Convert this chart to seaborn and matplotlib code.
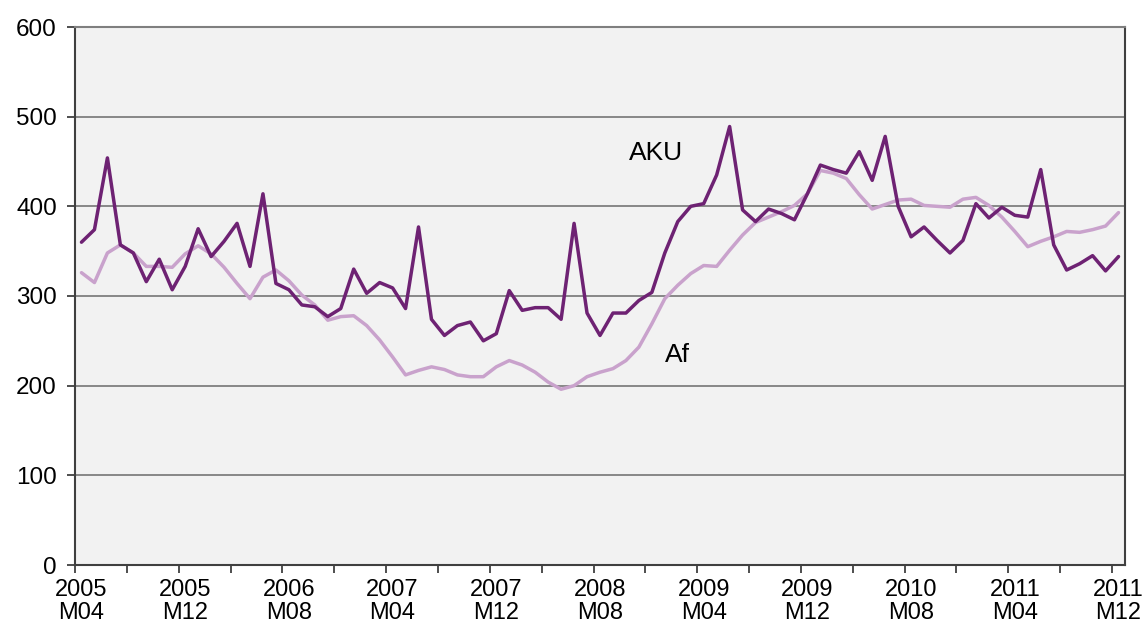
import matplotlib
matplotlib.use("Agg")
import matplotlib.pyplot as plt
import seaborn as sns
import pandas as pd
import numpy as np

# ---- data ----
aku = [360, 374, 454, 357, 348, 316, 341, 307, 333, 375, 344, 361, 381, 333, 414,
       314, 307, 290, 288, 277, 286, 330, 303, 315, 309, 286, 377, 274, 256, 267,
       271, 250, 258, 306, 284, 287, 287, 274, 381, 281, 256, 281, 281, 295, 304,
       348, 383, 400, 403, 435, 489, 396, 383, 397, 392, 385, 414, 446, 441, 437,
       461, 429, 478, 400, 366, 377, 362, 348, 362, 403, 387, 399, 390, 388, 441,
       357, 329, 336, 345, 328, 344]
af = [326, 315, 348, 357, 348, 333, 333, 332, 347, 356, 347, 332, 314, 297, 321,
      329, 317, 301, 290, 273, 277, 278, 267, 251, 232, 212, 217, 221, 218, 212,
      210, 210, 221, 228, 223, 215, 204, 196, 200, 210, 215, 219, 228, 243, 269,
      297, 312, 325, 334, 333, 351, 368, 382, 388, 394, 401, 414, 440, 437, 431,
      413, 397, 402, 407, 408, 401, 400, 399, 408, 410, 401, 388, 372, 355, 361,
      366, 372, 371, 374, 378, 393]
tick_labels = ["2005\nM04", "2005\nM12", "2006\nM08", "2007\nM04", "2007\nM12",
               "2008\nM08", "2009\nM04", "2009\nM12", "2010\nM08", "2011\nM04",
               "2011\nM12"]
series_names = ["AKU", "Af"]
colors = {"AKU": "#6E2273", "Af": "#C9A2CC"}

n = len(aku)
df = pd.DataFrame({
    "t": list(range(n)) * 2,
    "value": aku + af,
    "series": ["AKU"] * n + ["Af"] * n,
})

sns.set_theme(style="white")
plt.rcParams["font.family"] = ["Liberation Sans", "DejaVu Sans"]

fig = plt.figure(figsize=(11.43, 6.29), dpi=100)
ax = fig.add_axes([75 / 1143, 64 / 629, (1125 - 75) / 1143, (565 - 27) / 629])
ax.set_facecolor("#F2F2F2")

sns.lineplot(data=df, x="t", y="value", hue="series", hue_order=["Af", "AKU"],
             palette=colors, linewidth=2.5, legend=False, ax=ax, zorder=3)

ax.set_xlim(-0.5, n - 0.5)
ax.set_ylim(0, 600)
ax.set_yticks(range(0, 601, 100))
ax.yaxis.grid(True, color="#7F7F7F", linewidth=1.3, zorder=0)
ax.xaxis.grid(False)
ax.set_axisbelow(True)

ax.set_xticks(np.arange(0, n, 8))
ax.set_xticklabels(tick_labels)
ax.set_xticks(np.arange(-0.5, n, 4), minor=True)
ax.tick_params(axis="x", which="major", length=0, pad=10, labelsize=17, colors="black")
ax.tick_params(axis="x", which="minor", length=6, width=1.3, color="#404040", direction="out", bottom=True)
ax.tick_params(axis="y", which="major", length=6, width=1.3, color="#404040", direction="out",
               left=True, labelsize=17.5, pad=7, labelcolor="black")
for lab in ax.get_xticklabels():
    lab.set_linespacing(1.05)
ax.set_xlabel("")
ax.set_ylabel("")
for s in ax.spines.values():
    s.set_color("#404040")
    s.set_linewidth(1.5)
ax.spines["top"].set_color("#7F7F7F")

ax.text(44.3, 460, "AKU", fontsize=19, ha="center", va="center", color="black")
ax.text(46.0, 234, "Af", fontsize=19, ha="center", va="center", color="black")

fig.savefig("out.png", dpi=100, facecolor="white")
